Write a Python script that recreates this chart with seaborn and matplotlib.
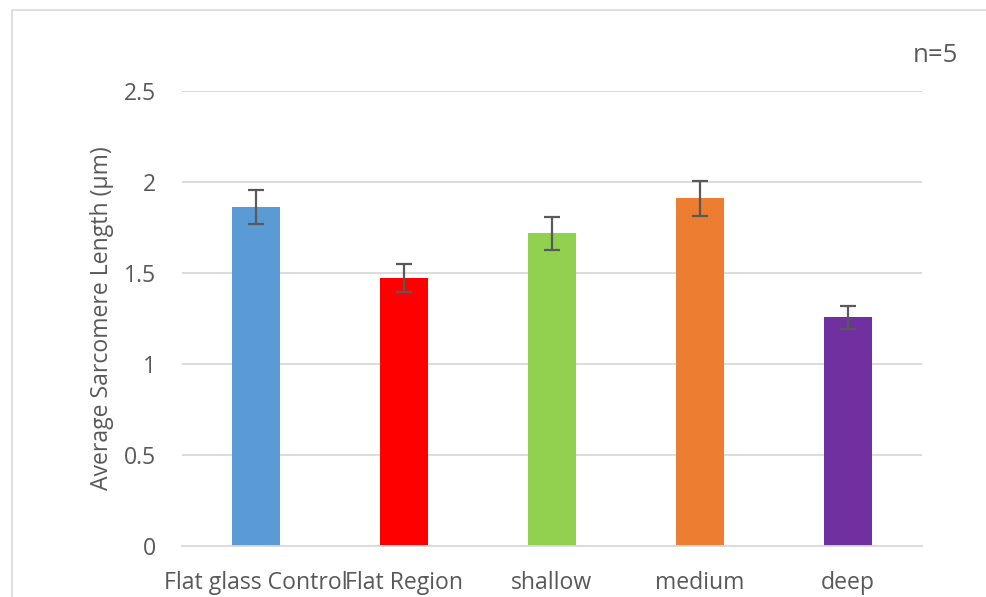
import matplotlib
matplotlib.use("Agg")
import matplotlib.pyplot as plt
import seaborn as sns
import pandas as pd
from matplotlib.patches import Rectangle

categories = ["Flat glass Control", "Flat Region", "shallow", "medium", "deep"]
values = [1.862, 1.472, 1.719, 1.911, 1.258]
errors = [0.093, 0.075, 0.090, 0.096, 0.063]
colors = ["#5B9BD5", "#FF0000", "#92D050", "#ED7D31", "#7030A0"]
yticks = [0, 0.5, 1, 1.5, 2, 2.5]
ytick_labels = ["0", "0.5", "1", "1.5", "2", "2.5"]

sns.set_theme(style="white")
plt.rcParams["font.family"] = ["Open Sans", "DejaVu Sans"]
txt = "#595959"

df = pd.DataFrame({"cat": categories, "val": values})

fig = plt.figure(figsize=(9.87, 5.97), dpi=100)
ax = fig.add_axes([182/987, 1 - 546/597, 740/987, 455/597])

sns.barplot(data=df, x="cat", y="val", hue="cat", palette=colors,
            width=0.32, legend=False, ax=ax, saturation=1, linewidth=0)
ax.errorbar(range(len(categories)), values, yerr=errors, fmt="none",
            ecolor="#595959", elinewidth=1.6, capsize=6, capthick=1.6, zorder=5)

ax.set_xlim(-0.5, 4.5)
ax.set_ylim(0, 2.5)
ax.set_yticks(yticks)
ax.set_yticklabels(ytick_labels)
ax.yaxis.grid(True, color="#d9d9d9", linewidth=1.3)
ax.set_axisbelow(True)
for s in ["top", "right", "left"]:
    ax.spines[s].set_visible(False)
ax.spines["bottom"].set_color("#d9d9d9")
ax.spines["bottom"].set_linewidth(1.3)
ax.tick_params(axis="both", length=0, labelsize=16.6, colors=txt)
ax.tick_params(axis="y", pad=19)
ax.tick_params(axis="x", pad=18)
ax.set_xlabel("")
ax.set_ylabel("Average Sarcomere Length (µm)", fontsize=16.6, color=txt, labelpad=7)

fig.text(958/987, 1 - 56/597, "n=5", ha="right", va="center", fontsize=18.5, color=txt)

fig.patches.append(Rectangle((12/987, -0.1), 1.2, 1 - 10/597 + 0.1,
                             transform=fig.transFigure, fill=False,
                             edgecolor="#d9d9d9", linewidth=1.2))

fig.savefig("out.png", dpi=100, facecolor="white")
